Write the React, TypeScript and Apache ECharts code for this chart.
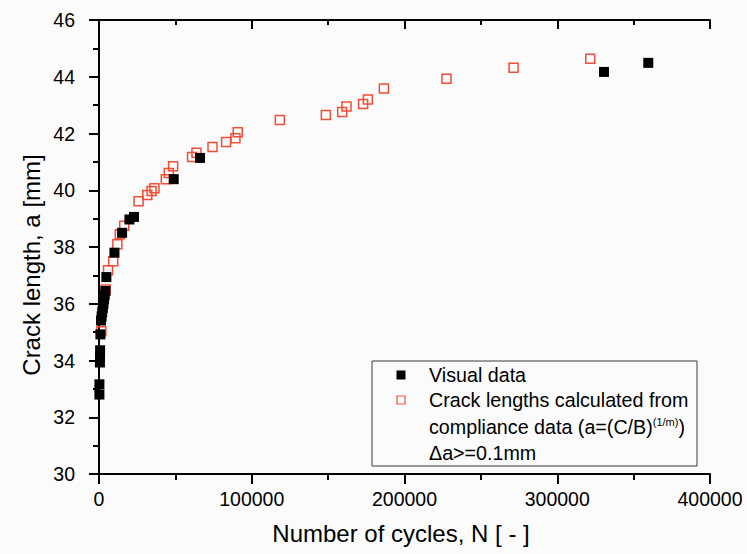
import { useEffect, useRef } from 'react';
import * as echarts from 'echarts';

// Crack length measured by eye (filled squares)
const visualCycles = [250, 250, 600, 650, 700, 900, 1300, 1700, 2100, 2500, 2900, 3300, 3700, 4200, 4800, 10100, 15100, 19900, 22900, 48900, 66100, 330600, 359600];
const visualLength = [32.8, 33.16, 33.93, 34.14, 34.36, 34.92, 35.41, 35.55, 35.7, 35.85, 36.0, 36.15, 36.3, 36.45, 36.94, 37.8, 38.5, 38.97, 39.06, 40.39, 41.14, 44.17, 44.49];

// Crack length from compliance (open squares)
const complianceCycles = [1500, 4400, 5900, 9300, 12000, 13600, 16500, 25900, 31600, 34400, 36300, 43700, 45700, 48500, 60900, 63800, 74300, 83200, 89300, 90800, 118400, 148500, 159200, 162000, 172900, 176000, 186500, 227500, 271400, 321600];
const complianceLength = [35.03, 36.5, 37.18, 37.5, 38.1, 38.45, 38.75, 39.61, 39.83, 39.97, 40.07, 40.39, 40.61, 40.85, 41.17, 41.32, 41.52, 41.7, 41.83, 42.04, 42.48, 42.65, 42.76, 42.95, 43.04, 43.2, 43.59, 43.93, 44.32, 44.63];

const xMajorTicks = [0, 100000, 200000, 300000, 400000];
const xMinorTicks = [50000, 150000, 250000, 350000];

const xTitle = 'Number of cycles, N [ - ]';
const yTitle = 'Crack length, a [mm]';
const legendVisual = 'Visual data';
const legendCompliance1 = 'Crack lengths calculated from';
const legendCompliance2 = 'compliance data (a=(C/B)';
const legendSup = '(1/m)';
const legendCompliance3 = ')';
const legendCompliance4 = '\u0394a>=0.1mm';

const FONT = '"Liberation Sans", Arial, Helvetica, sans-serif';
const RED = '#f24d36';
const BG = '#fbfbfb';
const TICK_FONT = 19.5;
const LEGEND_FONT = 19.7;

const line = { color: '#000', width: 2 };

export default function App() {
  const ref = useRef<HTMLDivElement>(null);

  useEffect(() => {
    if (!ref.current) return;
    const chart = echarts.init(ref.current, null, { renderer: 'svg' });
    const grid = { left: 92, right: 37, top: 20, bottom: 80, containLabel: false, outerBoundsMode: 'none' };
    const xRange = { min: -4600, max: 400000 };
    const yRange = { min: 30, max: 46 };

    chart.setOption({
      animation: false,
      backgroundColor: BG,
      textStyle: { fontFamily: FONT },
      grid: [grid, { ...grid }],
      xAxis: [
        {
          type: 'value', gridIndex: 0, position: 'bottom', ...xRange,
          axisLine: { lineStyle: line },
          axisTick: { customValues: xMajorTicks, length: 10, lineStyle: line },
          axisLabel: {
            customValues: xMajorTicks, margin: 15, fontSize: TICK_FONT, color: '#000', fontFamily: FONT,
            formatter: (v: number) => String(v),
          },
          splitLine: { show: false },
        },
        {
          type: 'value', gridIndex: 0, position: 'top', ...xRange,
          axisLine: { lineStyle: line },
          axisTick: { customValues: xMajorTicks, inside: true, length: 9, lineStyle: line },
          axisLabel: { show: false },
          splitLine: { show: false },
        },
        {
          type: 'value', gridIndex: 1, position: 'bottom', ...xRange,
          axisLine: { show: false },
          axisTick: { customValues: xMinorTicks, length: 6, lineStyle: line },
          axisLabel: { show: false },
          splitLine: { show: false },
        },
        {
          type: 'value', gridIndex: 1, position: 'top', ...xRange,
          axisLine: { show: false },
          axisTick: { customValues: xMinorTicks, inside: true, length: 5, lineStyle: line },
          axisLabel: { show: false },
          splitLine: { show: false },
        },
      ],
      yAxis: [
        {
          type: 'value', gridIndex: 0, position: 'left', ...yRange, interval: 2,
          axisLine: { show: true, lineStyle: line },
          axisTick: { show: true, length: 10, lineStyle: line },
          minorTick: { show: true, splitNumber: 2, length: 6, lineStyle: line },
          axisLabel: { margin: 17, fontSize: TICK_FONT, color: '#000', fontFamily: FONT },
          splitLine: { show: false },
        },
        {
          type: 'value', gridIndex: 0, position: 'right', ...yRange, interval: 2,
          axisLine: { show: true, lineStyle: line },
          axisTick: { show: true, inside: true, length: 9, lineStyle: line },
          minorTick: { show: true, splitNumber: 2, length: 5, lineStyle: line },
          axisLabel: { show: false },
          splitLine: { show: false },
        },
        { type: 'value', gridIndex: 1, show: false, ...yRange },
      ],
      series: [
        {
          name: 'compliance',
          type: 'scatter',
          xAxisIndex: 0,
          yAxisIndex: 0,
          symbol: 'rect',
          symbolSize: 9,
          itemStyle: { color: 'rgba(0,0,0,0)', borderColor: RED, borderWidth: 1.5, opacity: 1 },
          data: complianceCycles.map((n, i) => [n, complianceLength[i]]),
          z: 2,
        },
        {
          name: 'visual',
          type: 'scatter',
          xAxisIndex: 0,
          yAxisIndex: 0,
          symbol: 'rect',
          symbolSize: 10,
          itemStyle: { color: '#000', opacity: 1 },
          data: visualCycles.map((n, i) => [n, visualLength[i]]),
          z: 3,
        },
      ],
      graphic: [
        {
          type: 'text', x: 401, y: 533,
          style: { text: xTitle, font: `24px ${FONT}`, fill: '#000', align: 'center', verticalAlign: 'middle' },
        },
        {
          type: 'text', x: 31, y: 265, rotation: Math.PI / 2,
          style: { text: yTitle, font: `24px ${FONT}`, fill: '#000', align: 'center', verticalAlign: 'middle' },
        },
        {
          type: 'rect', shape: { x: 372, y: 361, width: 325, height: 105 },
          style: { fill: BG, stroke: '#3a3a3a', lineWidth: 1 }, z: 10,
        },
        {
          type: 'rect', shape: { x: 396.5, y: 370.5, width: 9, height: 9 },
          style: { fill: '#000' }, z: 11,
        },
        {
          type: 'rect', shape: { x: 397, y: 396, width: 8, height: 8 },
          style: { fill: 'none', stroke: RED, lineWidth: 1.2 }, z: 11,
        },
        {
          type: 'text', x: 429, y: 375, z: 11,
          style: { text: legendVisual, font: `${LEGEND_FONT}px ${FONT}`, fill: '#000', verticalAlign: 'middle' },
        },
        {
          type: 'text', x: 429, y: 400, z: 11,
          style: { text: legendCompliance1, font: `${LEGEND_FONT}px ${FONT}`, fill: '#000', verticalAlign: 'middle' },
        },
        {
          type: 'text', x: 429, y: 426.5, z: 11,
          style: {
            text: `{a|${legendCompliance2}}{s|${legendSup}}{a|${legendCompliance3}}`,
            verticalAlign: 'middle',
            rich: {
              a: { fontSize: LEGEND_FONT, fontFamily: FONT, fill: '#000', color: '#000', lineHeight: 20, verticalAlign: 'bottom' },
              s: { fontSize: 11, fontFamily: FONT, fill: '#000', color: '#000', lineHeight: 20, verticalAlign: 'top' },
            },
          },
        },
        {
          type: 'text', x: 429, y: 452.5, z: 11,
          style: { text: legendCompliance4, font: `${LEGEND_FONT}px ${FONT}`, fill: '#000', verticalAlign: 'middle' },
        },
      ],
    });

    return () => chart.dispose();
  }, []);

  return (
    <div
      ref={ref}
      style={{ position: 'absolute', left: 0, top: 0, width: 747, height: 554, background: BG }}
    />
  );
}
